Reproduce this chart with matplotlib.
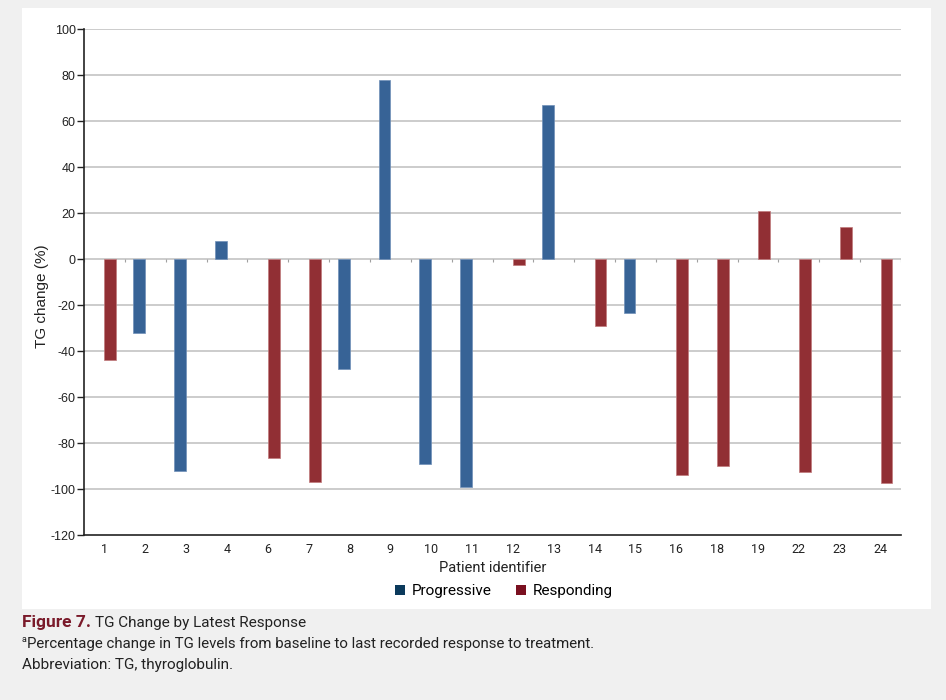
import numpy as np
import matplotlib
matplotlib.use("Agg")
import matplotlib.pyplot as plt
from matplotlib.patches import Rectangle, Patch

plt.rcParams['font.family'] = ['Roboto', 'DejaVu Sans']

patients = ["1", "2", "3", "4", "6", "7", "8", "9", "10", "11", "12", "13",
            "14", "15", "16", "18", "19", "22", "23", "24"]
progressive = [np.nan, -32, -92, 8, np.nan, np.nan, -48, 78, -89, -99, np.nan, 67,
               np.nan, -23.5, np.nan, np.nan, np.nan, np.nan, np.nan, np.nan]
responding = [-44, np.nan, np.nan, np.nan, -86.5, -97, np.nan, np.nan, np.nan, np.nan, -2.5, np.nan,
              -29, np.nan, -94, -90, 21, -92.5, 14, -97.5]
yticks = list(range(-120, 101, 20))

W, H = 946, 700
fig = plt.figure(figsize=(W / 100, H / 100), dpi=100, facecolor='#f0f0f0')
fig.patches.append(Rectangle((22 / W, 1 - 609 / H), (931 - 22) / W, (609 - 8) / H,
                             transform=fig.transFigure, facecolor='white',
                             edgecolor='none', zorder=-10))

ax = fig.add_axes([84 / W, 1 - 535 / H, (901 - 84) / W, (535 - 29) / H])
ax.set_facecolor('none')

x = np.arange(len(patients))
bw = 0.29
c_prog = '#376396'
c_resp = '#912f34'
ax.bar(x - bw / 2, progressive, width=bw, color=c_prog, edgecolor='#6f8fb8',
       linewidth=0.5, zorder=3)
ax.bar(x + bw / 2, responding, width=bw, color=c_resp, edgecolor='#c07a7c',
       linewidth=0.5, zorder=3)

ax.set_xlim(-0.5, len(patients) - 0.5)
ax.set_ylim(-120, 100)
ax.set_yticks(yticks)
ax.set_yticklabels([str(v) for v in yticks], fontsize=9, color='#222222',
                   family=['Liberation Sans', 'DejaVu Sans'])
ax.set_xticks(x)
ax.set_xticklabels(patients, fontsize=9, color='#222222')
ax.tick_params(axis='x', length=0, pad=6)
ax.tick_params(axis='y', length=5, width=1, color='#222222', pad=1)

for v in yticks:
    if v > -120:
        ax.axhline(v, color='#c4c4c4', linewidth=1.2, zorder=1)
ax.vlines(np.arange(-0.5, len(patients)), -1.3, 0, color='#a0a0a0', linewidth=0.8, zorder=2)

for s in ['top', 'right']:
    ax.spines[s].set_visible(False)
ax.spines['left'].set_color('#222222')
ax.spines['bottom'].set_color('#222222')
ax.spines['left'].set_linewidth(1.2)
ax.spines['bottom'].set_linewidth(1.2)

ax.set_xlabel('Patient identifier', fontsize=10.5, color='#222222', labelpad=3)
ax.set_ylabel('TG change (%)', fontsize=11, color='#222222',
              family=['Liberation Sans', 'DejaVu Sans'])
ax.yaxis.set_label_coords((49 - 84) / 817, (535 - 296) / 506)

handles = [Patch(facecolor='#0b3a5c', label='Progressive'),
           Patch(facecolor='#7a1020', label='Responding')]
fig.legend(handles=handles, loc='center', bbox_to_anchor=(504 / W, 1 - 591 / H),
           ncol=2, frameon=False, fontsize=11, handlelength=0.65, handleheight=0.65,
           handletextpad=0.45, columnspacing=1.6)

fig.text(22 / W, 1 - 623 / H, 'Figure 7.', fontsize=12.5, fontweight='bold',
         color='#7a1a2a', va='center')
fig.text(95 / W, 1 - 623 / H, 'TG Change by Latest Response', fontsize=11,
         color='#222222', va='center')
fig.text(22 / W, 1 - 640 / H, 'a', fontsize=6.5, color='#222222', va='center')
fig.text(27 / W, 1 - 644 / H, 'Percentage change in TG levels from baseline to last recorded response to treatment.',
         fontsize=10.8, color='#222222', va='center')
fig.text(22 / W, 1 - 665 / H, 'Abbreviation: TG, thyroglobulin.', fontsize=11,
         color='#222222', va='center')

fig.savefig('out.png', dpi=100, facecolor=fig.get_facecolor())
